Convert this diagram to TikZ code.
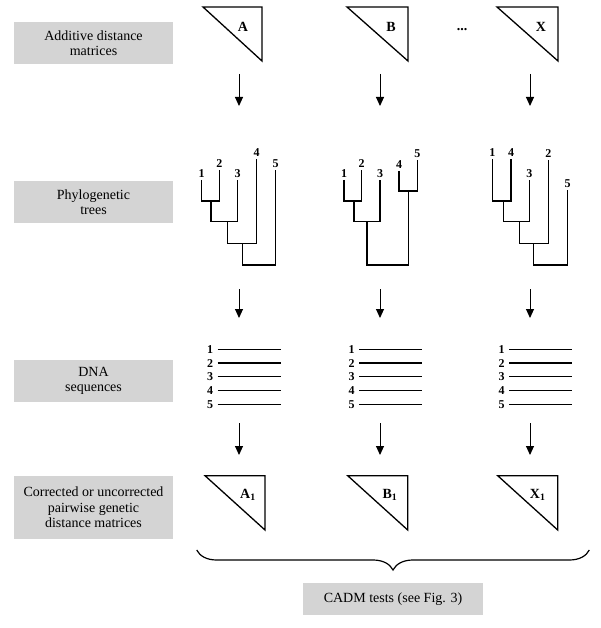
\documentclass[tikz,border=0pt]{standalone}
\usepackage{fontspec}
\setmainfont{Liberation Serif}
\usetikzlibrary{arrows.meta, decorations.pathreplacing}
\definecolor{boxgray}{RGB}{212,212,212}
\tikzset{
  stage/.style={fill=boxgray, minimum width=159pt, align=center, inner sep=0pt,
    font=\fontsize{14}{15.5}\selectfont},
  arr/.style={-{Triangle[width=8pt,length=9pt]}, line width=1pt},
  leaf/.style={anchor=south, inner sep=1.5pt, font=\fontsize{12}{12}\selectfont\bfseries},
  seqno/.style={anchor=east, inner sep=1pt, font=\fontsize{12}{12}\selectfont\bfseries},
  matlbl/.style={inner sep=0pt, font=\fontsize{14}{14}\selectfont\bfseries}
}
\begin{document}
\begin{tikzpicture}[x=1pt, y=-1pt, line width=1.3pt, line join=miter]
  \useasboundingbox (0,0) rectangle (600,628);
  % stage labels on the left
  \node [stage, minimum height=42pt] (lblmat) at (93.5,43) {Additive distance\\matrices};
  \node [stage, minimum height=42pt] (lbltree) at (93.5,202) {Phylogenetic\\trees};
  \node [stage, minimum height=42pt] (lblseq) at (93.5,381) {DNA\\sequences};
  \node [stage, minimum height=63pt] (lbldist) at (93.5,507.5) {Corrected or uncorrected\\pairwise genetic\\distance matrices};
  % additive matrices
  \draw (203,7) -- (262,7) -- (262,61) -- cycle;
  \draw (347,7) -- (408,7) -- (408,61) -- cycle;
  \draw (497,7) -- (558,7) -- (558,61) -- cycle;
  \node [matlbl] (matA) at (243,27) {A};
  \node [matlbl] (matB) at (391,27) {B};
  \node [matlbl] (matX) at (541,27) {X};
  \node [matlbl, anchor=base] (dots) at (462,31) {...};
  % arrows between the stages
  \foreach \x [count=\i] in {239,380,530} {
    \coordinate (up\i) at (\x,74);
    \coordinate (dn\i) at (\x,106);
    \draw [arr] (up\i) -- (dn\i);
    \coordinate (tu\i) at (\x,289);
    \coordinate (td\i) at (\x,318);
    \draw [arr] (tu\i) -- (td\i);
    \coordinate (su\i) at (\x,423);
    \coordinate (sd\i) at (\x,455);
    \draw [arr] (su\i) -- (sd\i);
  }
  % tree A
  \draw (201.7,180) |- (219.3,201) -- (219.3,170);
  \draw (211,201) |- (237.7,221.7) -- (237.7,180);
  \draw (227.5,221.7) |- (256.7,243.3) -- (256.7,159);
  \draw (242.3,243.3) |- (275.7,265) -- (275.7,170);
  \node [leaf] (ta1) at (201.7,180) {1};
  \node [leaf] (ta2) at (219.3,170) {2};
  \node [leaf] (ta3) at (237.7,180) {3};
  \node [leaf] (ta4) at (256.7,159) {4};
  \node [leaf] (ta5) at (275.7,170) {5};
  % tree B
  \draw (344,180) |- (361.7,201) -- (361.7,170);
  \draw (354,201) |- (380,221.7) -- (380,180);
  \draw (399,171) |- (417.3,191) -- (417.3,160);
  \draw (367,221.7) |- (408.3,265) -- (408.3,191);
  \node [leaf] (tb1) at (344,180) {1};
  \node [leaf] (tb2) at (361.7,170) {2};
  \node [leaf] (tb3) at (380,180) {3};
  \node [leaf] (tb4) at (399,171) {4};
  \node [leaf] (tb5) at (417.3,160) {5};
  % tree X
  \draw (492.3,159) |- (511,201) -- (511,159);
  \draw (503.3,201) |- (529.3,221.7) -- (529.3,180);
  \draw (519.3,221.7) |- (548.3,243.3) -- (548.3,160);
  \draw (533.3,243.3) |- (567.7,265) -- (567.7,190);
  \node [leaf] (tx1) at (492.3,159) {1};
  \node [leaf] (tx4) at (511,159) {4};
  \node [leaf] (tx3) at (529.3,180) {3};
  \node [leaf] (tx2) at (548.3,160) {2};
  \node [leaf] (tx5) at (567.7,190) {5};
  % sequences
  \foreach \x in {217.7,359.3,509.3} {
    \foreach \n in {1,...,5} {
      \draw (\x,349.3+13.75*\n-13.75) -- (\x+63,349.3+13.75*\n-13.75);
      \node [seqno] at (\x-3,349.3+13.75*\n-13.75) {\n};
    }
  }
  % genetic distance matrices
  \draw (205,475.7) -- (265,475.7) -- (265,530) -- cycle;
  \draw (347.7,475.7) -- (407.7,475.7) -- (407.7,530) -- cycle;
  \draw (497.7,475.7) -- (557.7,475.7) -- (557.7,530) -- cycle;
  \node [matlbl] (genA) at (248,495) {A\textsubscript{1}};
  \node [matlbl] (genB) at (390,495) {B\textsubscript{1}};
  \node [matlbl] (genX) at (537.7,495) {X\textsubscript{1}};
  % brace and tests
  \coordinate (brR) at (589.3,550);
  \coordinate (brL) at (196.7,550);
  \draw [line width=1.2pt, decorate, decoration={brace, amplitude=20pt}] (brR) -- (brL);
  \node [stage, minimum width=180pt, minimum height=32pt] (cadm) at (393,599) {CADM tests (see Fig. 3)};
\end{tikzpicture}
\end{document}
